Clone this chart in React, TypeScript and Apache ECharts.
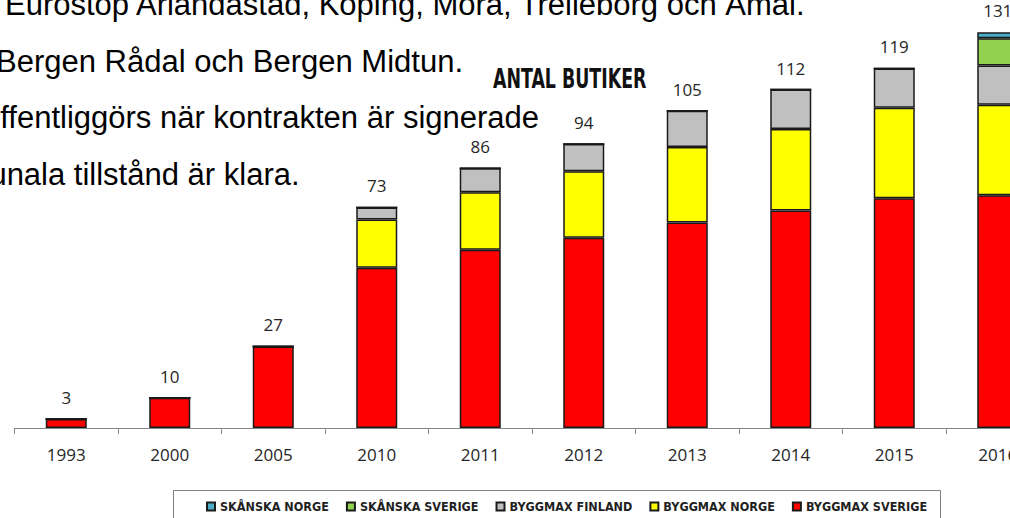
import React, { useEffect, useRef } from "react";
import * as echarts from "echarts";

const years = ["1993", "2000", "2005", "2010", "2011", "2012", "2013", "2014", "2015", "2016"];
const byggmaxSverige = [3, 10, 27, 53, 59, 63, 68, 72, 76, 77];
const byggmaxNorge = [0, 0, 0, 16, 19, 22, 25, 27, 30, 30];
const byggmaxFinland = [0, 0, 0, 4, 8, 9, 12, 13, 13, 13];
const skanskaSverige = [0, 0, 0, 0, 0, 0, 0, 0, 0, 9];
const skanskaNorge = [0, 0, 0, 0, 0, 0, 0, 0, 0, 2];

const legendOrder = ["SKÅNSKA NORGE", "SKÅNSKA SVERIGE", "BYGGMAX FINLAND", "BYGGMAX NORGE", "BYGGMAX SVERIGE"];

const overlayLines = [
  "Eurostop Arlandastad, Köping, Mora, Trelleborg och Åmål.",
  "Bergen Rådal och Bergen Midtun.",
  "offentliggörs när kontrakten är signerade",
  "kommunala tillstånd är klara.",
];

const chartTitle = "ANTAL BUTIKER";

export default function App() {
  const ref = useRef<HTMLDivElement>(null);

  useEffect(() => {
    if (!ref.current) return;
    const chart = echarts.init(ref.current, null, { renderer: "svg" });
    const totals = years.map(
      (_, i) => byggmaxSverige[i] + byggmaxNorge[i] + byggmaxFinland[i] + skanskaSverige[i] + skanskaNorge[i]
    );
    const border = { borderColor: "#1a1a1a", borderWidth: 1.5 };
    const mk = (name: string, data: number[], color: string) => ({
      name,
      type: "bar",
      stack: "total",
      barWidth: 41,
      data,
      itemStyle: { color, ...border },
    });
    const condensed = "'Liberation Sans Narrow', 'DejaVu Sans Condensed', 'Liberation Sans', sans-serif";
    const lineX = [5, -4, -17, -95];
    const lineY = [4, 61, 117.6, 174.3];

    chart.setOption({
      animation: false,
      grid: { left: 14.5, right: 10.5, top: 5, bottom: 90 },
      xAxis: {
        type: "category",
        data: years,
        axisLine: { lineStyle: { color: "#868686", width: 1 } },
        axisTick: { show: true, length: 6, lineStyle: { color: "#868686" } },
        axisLabel: { fontFamily: "'Open Sans', sans-serif", fontSize: 17, color: "#262626", margin: 18 },
      },
      yAxis: { type: "value", min: 0, max: 140, show: false, splitLine: { show: false } },
      legend: {
        data: legendOrder,
        left: 206,
        top: 500,
        padding: 0,
        icon: "rect",
        itemWidth: 8,
        itemHeight: 8,
        itemGap: 17,
        textStyle: {
          fontFamily: condensed,
          fontWeight: "bold",
          fontSize: 12.5,
          color: "#1f1f1f",
        },
      },
      series: [
        mk("BYGGMAX SVERIGE", byggmaxSverige, "#FF0000"),
        mk("BYGGMAX NORGE", byggmaxNorge, "#FFFF00"),
        mk("BYGGMAX FINLAND", byggmaxFinland, "#C0C0C0"),
        mk("SKÅNSKA SVERIGE", skanskaSverige, "#92D050"),
        mk("SKÅNSKA NORGE", skanskaNorge, "#4BACC6"),
        {
          name: "Totalt",
          type: "bar",
          stack: "total",
          barWidth: 41,
          data: years.map(() => 0),
          itemStyle: { color: "transparent", borderWidth: 0 },
          label: {
            show: true,
            position: "top",
            distance: 13,
            fontFamily: "'Open Sans', sans-serif",
            fontSize: 17,
            color: "#262626",
            formatter: (p: any) => String(totals[p.dataIndex]),
          },
        },
      ],
      graphic: [
        {
          type: "rect",
          shape: { x: 173.5, y: 490.5, width: 767, height: 40 },
          style: { fill: "none", stroke: "#7f7f7f", lineWidth: 1 },
          silent: true,
        },
        {
          type: "text",
          x: 493,
          y: 78.5,
          scaleX: 0.744,
          style: {
            text: chartTitle,
            font: "bold 26px 'Liberation Sans Narrow', 'DejaVu Sans Condensed', sans-serif",
            fill: "#111111",
            verticalAlign: "middle",
          },
        },
        ...overlayLines.map((t, i) => ({
          type: "text",
          x: lineX[i],
          y: lineY[i],
          style: {
            text: t,
            font: "31px 'Liberation Sans', Arial, sans-serif",
            fill: "#000000",
            verticalAlign: "middle",
          },
        })),
      ],
    });
    return () => chart.dispose();
  }, []);

  return (
    <div style={{ position: "fixed", left: 0, top: 0, width: 1010, height: 518, overflow: "hidden", background: "#fff" }}>
      <div ref={ref} style={{ width: 1060, height: 518 }} />
    </div>
  );
}
